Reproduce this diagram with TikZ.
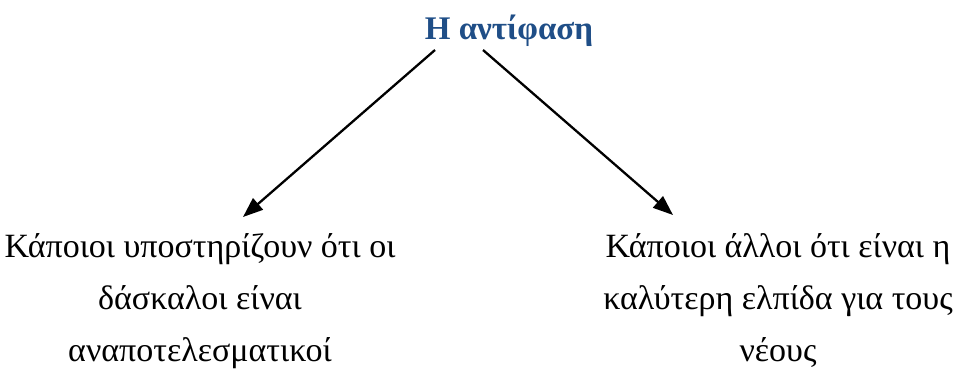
\documentclass[tikz,border=0pt]{standalone}
\usepackage{fontspec}
\setmainfont{Liberation Serif}
\usetikzlibrary{calc,arrows.meta}
\definecolor{titleblue}{HTML}{1F4E87}
\tikzset{
  titletext/.style={font=\fontsize{33}{40}\selectfont\bfseries, text=titleblue, inner sep=0pt},
  bodytext/.style={font=\fontsize{34}{52}\selectfont, align=center, inner sep=0pt},
  arr/.style={line width=2.3pt, -{Triangle[length=20pt,width=15pt]}}
}
\begin{document}
\begin{tikzpicture}[x=1pt,y=-1pt]
\useasboundingbox (0,0) rectangle (954,369);
\node[titletext, anchor=base] (title) at (509,40) {Η αντίφαση};
\node[bodytext, anchor=base] (left) at (200,361) {Κάποιοι υποστηρίζουν ότι οι\\ δάσκαλοι είναι\\ αναποτελεσματικοί};
\node[bodytext, anchor=base] (right) at (778,361) {Κάποιοι άλλοι ότι είναι η\\ καλύτερη ελπίδα για τους\\ νέους};
\coordinate (lefttip) at (243,217);
\coordinate (righttip) at (673,215);
\draw[arr] ($(title.base)+(-74,10)$) -- (lefttip);
\draw[arr] ($(title.base)+(-26,10)$) -- (righttip);
\end{tikzpicture}
\end{document}
